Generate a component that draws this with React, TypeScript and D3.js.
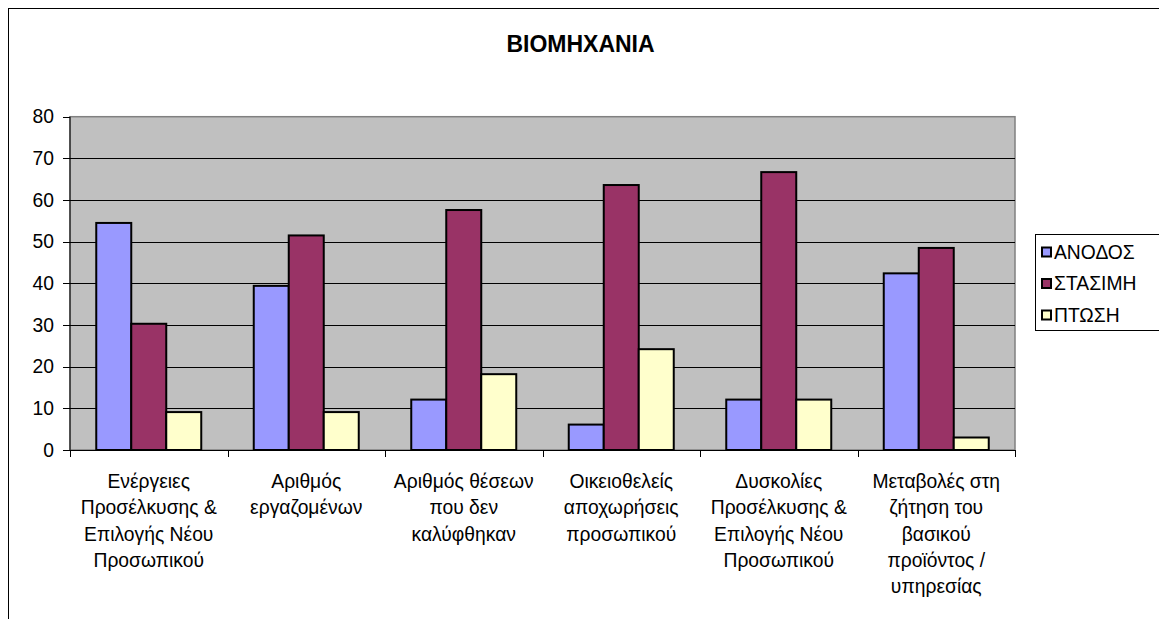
import React from "react";
import * as d3 from "d3";

const categories: string[][] = [
  ["Ενέργειες", "Προσέλκυσης &", "Επιλογής Νέου", "Προσωπικού"],
  ["Αριθμός", "εργαζομένων"],
  ["Αριθμός θέσεων", "που δεν", "καλύφθηκαν"],
  ["Οικειοθελείς", "αποχωρήσεις", "προσωπικού"],
  ["Δυσκολίες", "Προσέλκυσης &", "Επιλογής Νέου", "Προσωπικού"],
  ["Μεταβολές στη", "ζήτηση του", "βασικού", "προϊόντος /", "υπηρεσίας"],
];
const seriesNames = ["ΑΝΟΔΟΣ", "ΣΤΑΣΙΜΗ", "ΠΤΩΣΗ"];
const anodos = [54.5, 39.4, 12.1, 6.1, 12.1, 42.4];
const stasimi = [30.3, 51.5, 57.6, 63.6, 66.7, 48.5];
const ptosi = [9.1, 9.1, 18.2, 24.2, 12.1, 3.0];
const yTicks = [0, 10, 20, 30, 40, 50, 60, 70, 80];
const title = "ΒΙΟΜΗΧΑΝΙΑ";

const colors = ["#9999FF", "#993366", "#FFFFCC"];
const FONT = "'Liberation Sans', Arial, sans-serif";

export default function App() {
  const W = 1159, H = 619;
  const left = 70, right = 1015, top = 116.7, bottom = 450;
  const series = [anodos, stasimi, ptosi];
  const catIdx = categories.map((_, i) => String(i));
  const x = d3.scaleBand<string>().domain(catIdx).range([left, right]).padding(0);
  const bw = x.bandwidth();
  const xs = d3.scaleBand<string>().domain(seriesNames).range([bw / 6, (5 * bw) / 6]).padding(0);
  const y = d3.scaleLinear().domain([0, 80]).range([bottom, top]);
  const fs = 19.3;

  return (
    <svg width={W} height={H} style={{ position: "absolute", left: 0, top: 0, background: "#fff" }} fontFamily={FONT}>
      <rect x={8.5} y={8.5} width={1300} height={800} fill="#fff" stroke="#000" strokeWidth={1} />
      <text x={580.5} y={51.5} textAnchor="middle" fontSize={23} fontWeight="bold" fill="#000">{title}</text>
      {/* plot area */}
      <rect x={left} y={top} width={right - left} height={bottom - top} fill="#C0C0C0" stroke="#808080" strokeWidth={1.5} />
      {yTicks.filter(t => t > 0 && t < 80).map(t => (
        <line key={t} x1={left} x2={right} y1={Math.round(y(t)) + 0.5} y2={Math.round(y(t)) + 0.5} stroke="#000" strokeWidth={1} />
      ))}
      {/* bars */}
      {catIdx.map((c, i) => (
        <g key={c} transform={`translate(${x(c)},0)`}>
          {series.map((s, j) => (
            <rect key={j} x={xs(seriesNames[j])!} y={y(s[i])} width={xs.bandwidth()} height={bottom - y(s[i])}
              fill={colors[j]} stroke="#000" strokeWidth={2} />
          ))}
        </g>
      ))}
      {/* y axis */}
      <line x1={left} x2={left} y1={top} y2={bottom} stroke="#000" strokeWidth={1} />
      {yTicks.map(t => (
        <g key={t}>
          <line x1={left - 7} x2={left} y1={Math.round(y(t)) + 0.5} y2={Math.round(y(t)) + 0.5} stroke="#000" strokeWidth={1} />
          <text x={54} y={y(t)} dy="0.35em" textAnchor="end" fontSize={fs} fill="#000">{t}</text>
        </g>
      ))}
      {/* x axis */}
      <line x1={left} x2={right} y1={bottom + 0.5} y2={bottom + 0.5} stroke="#000" strokeWidth={1} />
      {[...catIdx.map(c => x(c)!), right].map((px, i) => (
        <line key={i} x1={Math.round(px) + 0.5} x2={Math.round(px) + 0.5} y1={bottom} y2={bottom + 7} stroke="#000" strokeWidth={1} />
      ))}
      {categories.map((lines, i) => (
        <text key={i} x={x(String(i))! + bw / 2} y={488} textAnchor="middle" fontSize={fs} fill="#000">
          {lines.map((l, k) => (
            <tspan key={k} x={x(String(i))! + bw / 2} y={488 + k * 26.3}>{l}</tspan>
          ))}
        </text>
      ))}
      {/* legend */}
      <rect x={1035.5} y={234.5} width={200} height={96} fill="#fff" stroke="#000" strokeWidth={1} />
      {seriesNames.map((n, j) => (
        <g key={n}>
          <rect x={1042} y={252 + j * 31.5 - 4.5} width={9} height={9} fill={colors[j]} stroke="#000" strokeWidth={2} />
          <text x={1054} y={252 + j * 31.5} dy="0.35em" fontSize={fs} fill="#000">{n}</text>
        </g>
      ))}
    </svg>
  );
}
